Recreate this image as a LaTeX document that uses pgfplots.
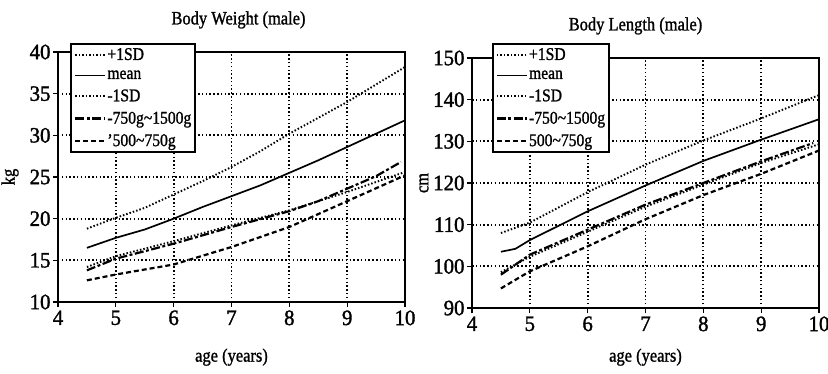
\documentclass[border=0pt]{standalone}
\usepackage{fontspec}
\setmainfont{Liberation Serif}[FakeStretch=0.87, FakeBold=1.2]
\newfontfamily\tickfont{Liberation Serif}[FakeStretch=0.95, FakeBold=1.5]
\usepackage{pgfplots}
\pgfplotsset{compat=1.18}
\newcommand{\tl}{{\char"007E}}
\pgfplotsset{
  every axis grid/.style={black, line width=1.8pt, dash pattern=on 1.5pt off 2.3pt},
  mystyle/.style={
    scale only axis, width=347bp, height=250bp,
    xmin=4, xmax=10, xtick={4,5,6,7,8,9,10},
    xmajorgrids, ymajorgrids,
    grid style={black, line width=1.8pt, dash pattern=on 1.5pt off 2.3pt},
    axis line style={line width=1.5pt, black},
    tick align=outside, tick pos=left,
    major tick length=5bp, tick style={line width=1.3pt, black},
    /pgf/number format/assume math mode=true,
    ticklabel style={font=\tickfont\fontsize{22}{22}\selectfont},
    yticklabel style={xshift=1bp},
    every axis y label/.style={at={(axis description cs:0,0.5)}, rotate=90, anchor=center, yshift=48bp, font=\fontsize{19}{19}\selectfont},
    every axis x label/.style={at={(axis description cs:0.5,0)}, anchor=north, font=\fontsize{19}{19}\selectfont},
    title style={at={(axis description cs:0.5,1)}, anchor=south, yshift=14bp, font=\fontsize{19}{19}\selectfont},
    legend cell align=left,
    legend image code/.code={\draw[##1] (0bp,0bp) -- (30bp,0bp);},
    legend style={font=\fontsize{18}{18}\selectfont, draw=black, line width=2.2pt, fill=white,
      inner sep=3bp, row sep=7bp, anchor=north west,
      nodes={inner sep=1bp}},
  },
  sdp/.style={black, line width=1.9pt, dash pattern=on 1.5pt off 2pt},
  mn/.style={black, line width=1.7pt},
  sdm/.style={black, line width=1.9pt, dash pattern=on 1.5pt off 2pt},
  big/.style={black, line width=2.2pt, dash pattern=on 9pt off 2.5pt on 3pt off 2.5pt},
  small/.style={black, line width=2.2pt, dash pattern=on 5pt off 3pt},
}
\begin{document}
\begin{tikzpicture}
\useasboundingbox (0,0) rectangle (828bp,374bp);
\begin{axis}[mystyle, at={(58bp,72bp)}, anchor=south west,
  ymin=10, ymax=40, ytick={10,15,20,25,30,35,40},
  title={Body Weight (male)}, title style={xshift=7bp},
  xlabel={age (years)}, ylabel={kg},
  xlabel style={yshift=-43bp},
  legend style={at={(0.035,1.036)}}]
\addplot[sdp] coordinates {(4.5,18.8)(5,20.1)(5.5,21.3)(6,22.9)(6.5,24.5)(7,26.2)(7.5,28.1)(8,30.2)(8.5,32.1)(9,34.0)(9.5,36.1)(10,38.2)};
\addlegendentry{+1SD}
\addplot[mn] coordinates {(4.5,16.5)(5,17.7)(5.5,18.7)(6,20.0)(6.5,21.4)(7,22.7)(7.5,24.0)(8,25.5)(8.5,27.0)(9,28.6)(9.5,30.2)(10,31.8)};
\addlegendentry{mean}
\addplot[sdm] coordinates {(4.5,14.2)(5,15.5)(6,17.3)(7,19.2)(8,21.0)(9,23.2)(10,25.6)};
\addlegendentry{-1SD}
\addplot[big] coordinates {(4.5,13.8)(5,15.2)(6,17.0)(7,19.0)(8,20.9)(8.5,22.1)(9,23.6)(9.5,25.1)(9.93,26.8)};
\addlegendentry{-750g\tl1500g}
\addplot[small] coordinates {(4.5,12.6)(5,13.3)(6,14.5)(7,16.6)(8,19.0)(9,22.1)(10,25.2)};
\addlegendentry{'500\tl750g}
\end{axis}
\begin{axis}[mystyle, at={(472bp,66bp)}, anchor=south west,
  ymin=90, ymax=150, ytick={90,100,110,120,130,140,150},
  title={Body Length (male)}, title style={xshift=-10bp},
  xlabel={age (years)}, ylabel={cm},
  xlabel style={yshift=-37bp},
  legend style={at={(0.057,1.06)}}]
\addplot[sdp] coordinates {(4.5,108.0)(5,110.5)(6,117.8)(7,124.4)(8,130.2)(9,135.5)(10,141.1)};
\addlegendentry{+1SD}
\addplot[mn] coordinates {(4.5,103.5)(4.75,104.2)(5,106.3)(6,113.2)(7,119.4)(8,125.3)(9,130.4)(10,135.3)};
\addlegendentry{mean}
\addplot[sdm] coordinates {(4.5,98.6)(5,102.3)(6,108.3)(7,114.3)(8,119.6)(9,124.8)(10,129.3)};
\addlegendentry{-1SD}
\addplot[big] coordinates {(4.5,98.0)(5,102.8)(6,108.8)(7,114.8)(8,120.0)(9,125.2)(9.9,129.6)};
\addlegendentry{-750\tl1500g}
\addplot[small] coordinates {(4.5,94.7)(5,98.8)(6,104.8)(7,111.3)(8,117.1)(9,122.2)(10,127.8)};
\addlegendentry{500\tl750g}
\end{axis}
\end{tikzpicture}
\end{document}
